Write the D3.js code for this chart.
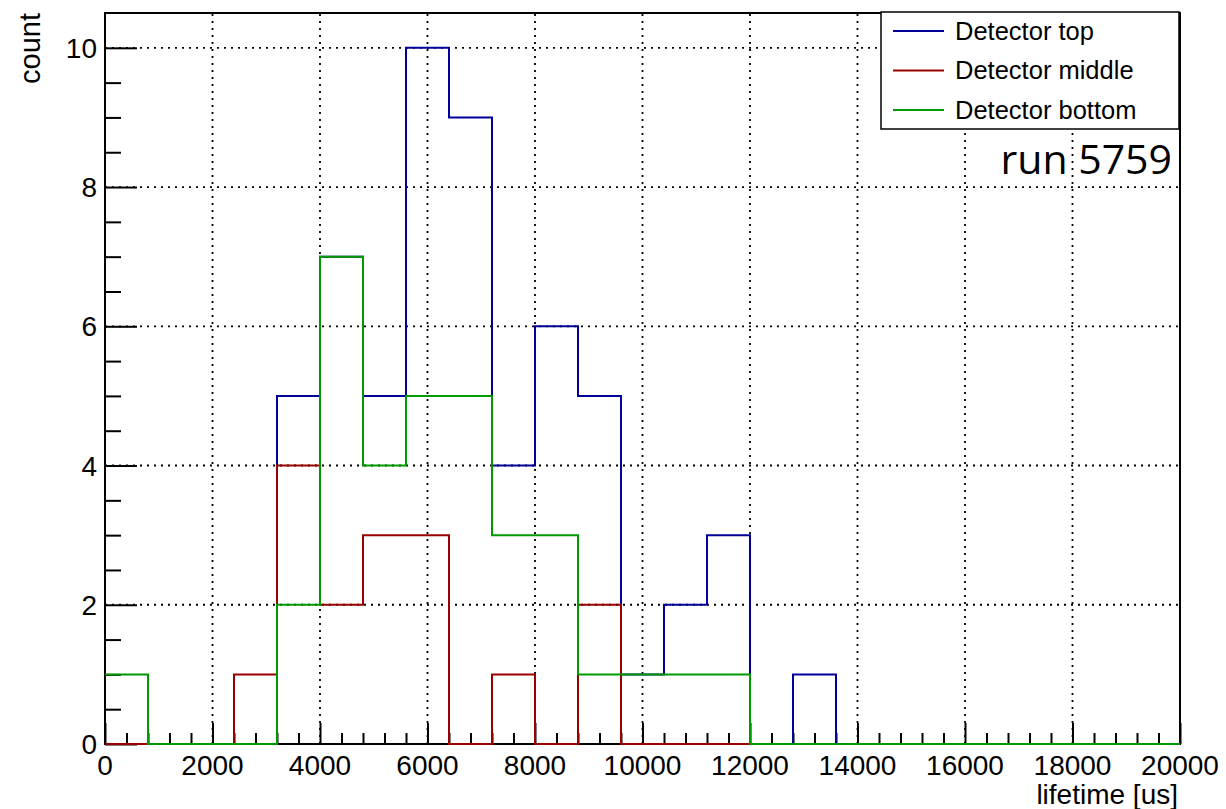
<!DOCTYPE html>
<html>
<head>
<meta charset="utf-8">
<script src="https://cdn.jsdelivr.net/npm/d3@7"></script>
<style>
  body { margin: 0; background: #fff; }
  text { font-family: "Liberation Sans", Arial, sans-serif; }
</style>
</head>
<body>
<div id="chart"></div>
<script>
// bin edges: 25 bins of 800 us from 0 to 20000
let binStarts = d3.range(0, 20000, 800)

let topCounts =    [0,0,0,0,5,7,5,10,9,4,6,5,1,2,3,0,1,0,0,0,0,0,0,0,0]
let middleCounts = [0,0,0,1,4,2,3,3,0,1,0,2,0,0,0,0,0,0,0,0,0,0,0,0,0]
let bottomCounts = [1,0,0,0,2,7,4,5,5,3,3,1,1,1,1,0,0,0,0,0,0,0,0,0,0]

let seriesNames = ["Detector top", "Detector middle", "Detector bottom"]
let seriesColors = ["#000099", "#990000", "#009900"]

let xTicks = d3.range(0, 20001, 2000)
let yTicks = [0, 2, 4, 6, 8, 10]

const width = 1226, height = 809
const frameLeft = 105, frameRight = 1180, frameTop = 13, frameBottom = 744

const svg = d3.select('#chart')
    .append('svg')
    .attr('width', width)
    .attr('height', height)

const x = d3.scaleLinear().domain([0, 20000]).range([frameLeft, frameRight])
const y = d3.scaleLinear().domain([0, 10.5]).range([frameBottom, frameTop])

// grid
const grid = svg.append('g').attr('class', 'grid')
grid.selectAll('.gx')
    .data(xTicks.filter(d => d > 0 && d < 20000))
    .join('line')
    .attr('x1', d => x(d)).attr('x2', d => x(d))
    .attr('y1', frameBottom).attr('y2', frameTop)
    .attr('stroke', '#000').attr('stroke-width', 1.8)
    .attr('stroke-dasharray', '2,5')
grid.selectAll('.gy')
    .data(yTicks.filter(d => d > 0))
    .join('line')
    .attr('y1', d => y(d)).attr('y2', d => y(d))
    .attr('x1', frameLeft).attr('x2', frameRight)
    .attr('stroke', '#000').attr('stroke-width', 1.8)
    .attr('stroke-dasharray', '2,5')

// frame
svg.append('rect')
    .attr('x', frameLeft).attr('y', frameTop)
    .attr('width', frameRight - frameLeft).attr('height', frameBottom - frameTop)
    .attr('fill', 'none')
    .attr('stroke', '#000').attr('stroke-width', 2)

// axes
const xAxis = d3.axisBottom(x)
    .tickValues(d3.range(0, 20001, 400))
    .tickSize(0)
    .tickFormat('')
const xAxisG = svg.append('g')
    .attr('transform', `translate(0, ${frameBottom})`)
    .call(xAxis)
xAxisG.select('.domain').remove()
xAxisG.selectAll('.tick line')
    .attr('stroke', '#000').attr('stroke-width', 2)
    .attr('y2', d => d % 2000 === 0 ? -21 : -11)

const yAxis = d3.axisLeft(y)
    .tickValues(d3.range(0, 10.01, 0.5))
    .tickSize(0)
    .tickFormat('')
const yAxisG = svg.append('g')
    .attr('transform', `translate(${frameLeft}, 0)`)
    .call(yAxis)
yAxisG.select('.domain').remove()
yAxisG.selectAll('.tick line')
    .attr('stroke', '#000').attr('stroke-width', 2)
    .attr('x2', d => d % 2 === 0 ? 32 : 16)

// tick labels
svg.append('g').selectAll('text')
    .data(xTicks)
    .join('text')
    .attr('x', d => x(d))
    .attr('y', frameBottom + 31)
    .attr('text-anchor', 'middle')
    .attr('font-size', 28)
    .text(d => d)
svg.append('g').selectAll('text')
    .data(yTicks)
    .join('text')
    .attr('x', frameLeft - 8)
    .attr('y', d => y(d) + 10)
    .attr('text-anchor', 'end')
    .attr('font-size', 28)
    .text(d => d)

// axis titles
svg.append('text')
    .attr('x', frameRight - 2)
    .attr('y', 804)
    .attr('text-anchor', 'end')
    .attr('font-size', 28)
    .text('lifetime [us]')
svg.append('text')
    .attr('transform', `translate(40, ${frameTop}) rotate(-90)`)
    .attr('text-anchor', 'end')
    .attr('font-size', 29)
    .text('count')

// histograms
const line = d3.line()
    .x(d => x(d[0]))
    .y(d => y(d[1]))
    .curve(d3.curveStepAfter)

;[topCounts, middleCounts, bottomCounts].forEach((counts, i) => {
    let pts = binStarts.map((b, j) => [b, counts[j]])
    pts.push([20000, counts[counts.length - 1]])
    svg.append('path')
        .attr('d', line(pts))
        .attr('fill', 'none')
        .attr('stroke', seriesColors[i])
        .attr('stroke-width', 2)
})

// run label
svg.append('text')
    .attr('x', 1172)
    .attr('y', 174)
    .attr('text-anchor', 'end')
    .attr('font-size', 41)
    .style('font-family', '"Open Sans", "DejaVu Sans", sans-serif')
    .text('run 5759')

// legend
const legend = svg.append('g')
legend.append('rect')
    .attr('x', 881).attr('y', 12)
    .attr('width', 298).attr('height', 117)
    .attr('fill', '#fff')
    .attr('stroke', '#000').attr('stroke-width', 1.5)
seriesNames.forEach((name, i) => {
    let cy = 31 + i * 39.5
    legend.append('line')
        .attr('x1', 893).attr('x2', 944)
        .attr('y1', cy).attr('y2', cy)
        .attr('stroke', seriesColors[i]).attr('stroke-width', 2)
    legend.append('text')
        .attr('x', 955)
        .attr('y', cy + 8.5)
        .attr('font-size', 25.5)
        .text(name)
})
</script>
</body>
</html>
